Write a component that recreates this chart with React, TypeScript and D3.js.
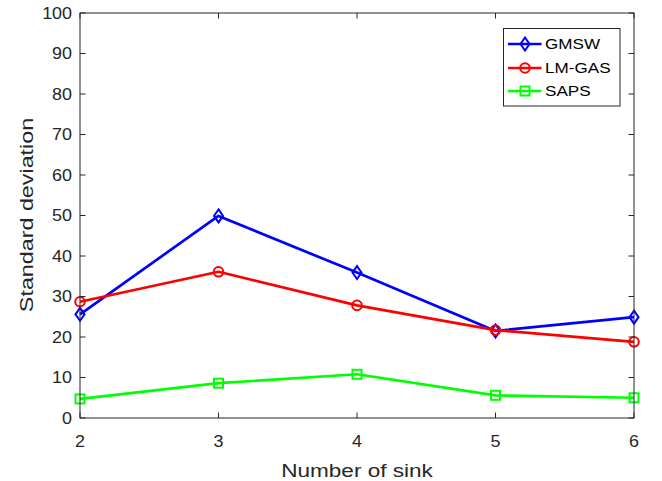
import React from "react";
import * as d3 from "d3";

const sinkCounts = [2, 3, 4, 5, 6];
const gmsw = [25.6, 49.9, 35.9, 21.5, 24.9];
const lmGas = [28.7, 36.1, 27.8, 21.7, 18.8];
const saps = [4.7, 8.6, 10.8, 5.6, 5.0];
const yTicks = [0, 10, 20, 30, 40, 50, 60, 70, 80, 90, 100];

const W = 662;
const H = 481;
const M = { left: 80, right: 634, top: 13, bottom: 418 };
const FONT = "'Liberation Sans', Arial, Helvetica, sans-serif";
const AXIS = "#262626";

type Series = { name: string; values: number[]; color: string; marker: "diamond" | "circle" | "square" };

const series: Series[] = [
  { name: "GMSW", values: gmsw, color: "#0000ff", marker: "diamond" },
  { name: "LM-GAS", values: lmGas, color: "#ff0000", marker: "circle" },
  { name: "SAPS", values: saps, color: "#00ff00", marker: "square" },
];

function Marker({ kind, x, y, color }: { kind: Series["marker"]; x: number; y: number; color: string }) {
  const sw = 2;
  if (kind === "diamond") {
    const p = `M${x},${y - 6.5}L${x + 4.5},${y}L${x},${y + 6.5}L${x - 4.5},${y}Z`;
    return <path d={p} fill="none" stroke={color} strokeWidth={sw} />;
  }
  if (kind === "circle") {
    return <circle cx={x} cy={y} r={4.8} fill="none" stroke={color} strokeWidth={sw} />;
  }
  return <rect x={x - 4.5} y={y - 4.5} width={9} height={9} fill="none" stroke={color} strokeWidth={sw} />;
}

// Text drawn at (x, y) and widened along its baseline.
function WideText({
  x,
  y,
  sx,
  rotate = 0,
  anchor = "start",
  size,
  fill,
  dy,
  children,
}: {
  x: number;
  y: number;
  sx: number;
  rotate?: number;
  anchor?: "start" | "middle" | "end";
  size: number;
  fill: string;
  dy?: string;
  children: React.ReactNode;
}) {
  return (
    <g transform={`translate(${x},${y}) rotate(${rotate}) scale(${sx},1)`}>
      <text x={0} y={0} dy={dy} textAnchor={anchor} fontSize={size} fill={fill}>
        {children}
      </text>
    </g>
  );
}

export default function App() {
  const x = d3.scaleLinear().domain([2, 6]).range([M.left, M.right]);
  const y = d3.scaleLinear().domain([0, 100]).range([M.bottom, M.top]);
  const line = d3
    .line<number>()
    .x((_, i) => x(sinkCounts[i]))
    .y((d) => y(d));

  const tickLen = 5.5;
  const legend = { x: 503.5, y: 28.5, w: 116.5, h: 77.5 };
  const legendRows = [44, 68, 91];

  return (
    <svg width={W} height={H} style={{ position: "absolute", left: 0, top: 0, background: "#fff" }} fontFamily={FONT}>
      <rect x={0} y={0} width={W} height={H} fill="#fff" />
      {/* data lines */}
      {series.map((s) => (
        <g key={s.name}>
          <path d={line(s.values) || ""} fill="none" stroke={s.color} strokeWidth={2.7} strokeLinejoin="round" />
          {s.values.map((v, i) => (
            <Marker key={i} kind={s.marker} x={x(sinkCounts[i])} y={y(v)} color={s.color} />
          ))}
        </g>
      ))}
      {/* axes box */}
      <rect
        x={M.left}
        y={M.top}
        width={M.right - M.left}
        height={M.bottom - M.top}
        fill="none"
        stroke={AXIS}
        strokeWidth={1}
      />
      {yTicks.map((t) => (
        <g key={t}>
          <line x1={M.left} x2={M.left + tickLen} y1={y(t)} y2={y(t)} stroke={AXIS} />
          <line x1={M.right} x2={M.right - tickLen} y1={y(t)} y2={y(t)} stroke={AXIS} />
          <WideText x={M.left - 8} y={y(t)} sx={1.12} anchor="end" size={16} fill={AXIS} dy="0.36em">
            {t}
          </WideText>
        </g>
      ))}
      {sinkCounts.map((t) => (
        <g key={t}>
          <line x1={x(t)} x2={x(t)} y1={M.bottom} y2={M.bottom - tickLen} stroke={AXIS} />
          <line x1={x(t)} x2={x(t)} y1={M.top} y2={M.top + tickLen} stroke={AXIS} />
          <WideText x={x(t)} y={446.5} sx={1.12} anchor="middle" size={16} fill={AXIS}>
            {t}
          </WideText>
        </g>
      ))}
      <WideText x={357} y={477} sx={1.22} anchor="middle" size={18.5} fill={AXIS}>
        Number of sink
      </WideText>
      <WideText x={33} y={215} rotate={-90} sx={1.26} anchor="middle" size={18.5} fill={AXIS}>
        Standard deviation
      </WideText>
      {/* legend */}
      <rect x={legend.x} y={legend.y} width={legend.w} height={legend.h} fill="#fff" stroke={AXIS} strokeWidth={1} />
      {series.map((s, i) => (
        <g key={s.name}>
          <line x1={508} x2={541.5} y1={legendRows[i]} y2={legendRows[i]} stroke={s.color} strokeWidth={2.7} />
          <Marker kind={s.marker} x={525} y={legendRows[i]} color={s.color} />
          <WideText x={545} y={legendRows[i]} sx={1.14} size={15} fill="#000" dy="0.36em">
            {s.name}
          </WideText>
        </g>
      ))}
    </svg>
  );
}
